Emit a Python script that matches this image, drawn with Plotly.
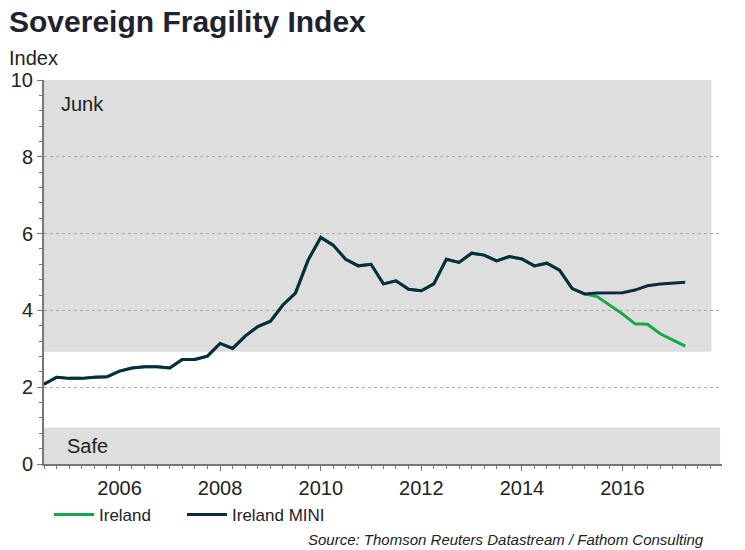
import pandas as pd
import plotly.graph_objects as go

# Quarterly observations, Q3 2004 .. Q2 2017
quarters = pd.date_range("2004-07-01", periods=52, freq="QS")

ireland_mini = [
    2.08, 2.26, 2.23, 2.23, 2.26, 2.27, 2.42, 2.50, 2.53, 2.53,
    2.50, 2.72, 2.72, 2.81, 3.14, 3.01, 3.33, 3.58, 3.72, 4.14,
    4.45, 5.31, 5.90, 5.70, 5.33, 5.16, 5.20, 4.69, 4.77, 4.55,
    4.51, 4.69, 5.33, 5.25, 5.49, 5.44, 5.29, 5.40, 5.34, 5.16,
    5.23, 5.05, 4.57, 4.43, 4.45, 4.46, 4.46, 4.53, 4.64, 4.69,
    4.71, 4.73,
]
ireland = ireland_mini[:44] + [4.36, 4.13, 3.91, 3.65, 3.64, 3.39, 3.23, 3.07]

junk_band = [2.92, 10.0]
safe_band = [0.0, 0.95]

GREEN = "#13a84a"
NAVY = "#0c2b3d"
BAND = "#dedede"
FONT = "Liberation Sans, Arial, sans-serif"

L, R, T, B = 44, 23, 80, 86
PW, PH = 745 - L - R, 550 - T - B


def px(x):
    return (x - L) / PW


def py(y):
    return (550 - B - y) / PH


fig = go.Figure()
fig.add_trace(go.Scatter(x=quarters, y=ireland, mode="lines", name="Ireland",
                         line=dict(color=GREEN, width=3), legend="legend"))
fig.add_trace(go.Scatter(x=quarters, y=ireland_mini, mode="lines", name="Ireland MINI",
                         line=dict(color=NAVY, width=3), legend="legend2"))

fig.add_shape(type="rect", xref="x", yref="y", x0="2004-07-01", x1="2017-10-08",
              y0=junk_band[0], y1=junk_band[1], fillcolor=BAND, line_width=0, layer="below")
fig.add_shape(type="rect", xref="x", yref="y", x0="2004-07-01", x1="2017-12-10",
              y0=safe_band[0], y1=safe_band[1], fillcolor=BAND, line_width=0, layer="below")

leg_common = dict(orientation="h", xanchor="left", yanchor="middle", y=py(515),
                  font=dict(size=17, color="#222222"), bgcolor="rgba(0,0,0,0)", itemwidth=40)

fig.update_layout(
    width=745, height=550,
    margin=dict(l=L, r=R, t=T, b=B, pad=0),
    plot_bgcolor="white", paper_bgcolor="white",
    font=dict(family=FONT, color="#222222"),
    showlegend=True,
    legend=dict(x=px(49), **leg_common),
    legend2=dict(x=px(182), **leg_common),
)

fig.update_xaxes(
    type="date", range=["2004-07-01", "2017-12-24"],
    tick0="2006-01-01", dtick="M24", tickformat="%Y",
    ticks="outside", ticklen=5, tickwidth=1, tickcolor="#777777",
    tickfont=dict(size=20, color="#222222"),
    showline=True, linecolor="#777777", linewidth=2,
    showgrid=False, zeroline=False,
    minor=dict(dtick="M3", ticks="outside", ticklen=3, tickcolor="#777777", showgrid=False),
)
fig.update_yaxes(
    range=[0, 10], dtick=2, tick0=0,
    ticks="outside", ticklen=5, tickwidth=1, tickcolor="#777777",
    tickfont=dict(size=20, color="#222222"),
    showline=True, linecolor="#777777", linewidth=2,
    showgrid=True, gridcolor="#a8a8a8", gridwidth=1, griddash="dot",
    zeroline=False,
    minor=dict(dtick=0.4, ticks="outside", ticklen=3, tickcolor="#777777", showgrid=False),
)

anns = [
    dict(text="<b>Sovereign Fragility Index</b>", x=px(7), y=py(21), size=30, color="#1f2330"),
    dict(text="Index", x=px(7), y=py(58), size=20, color="#222222"),
    dict(text="Junk", x=px(59), y=py(104), size=20, color="#222222"),
    dict(text="Safe", x=px(65), y=py(446), size=20, color="#222222"),
]
for a in anns:
    fig.add_annotation(text=a["text"], xref="paper", yref="paper", x=a["x"], y=a["y"],
                       xanchor="left", yanchor="middle", showarrow=False,
                       font=dict(size=a["size"], color=a["color"], family=FONT))
fig.add_annotation(text="<i>Source: Thomson Reuters Datastream / Fathom Consulting</i>",
                   xref="paper", yref="paper", x=px(706), y=py(539),
                   xanchor="right", yanchor="middle", showarrow=False,
                   font=dict(size=15, color="#222222", family=FONT))

fig.write_html("out.html", config={"displayModeBar": False},
               post_script="document.body.style.margin='0';")
